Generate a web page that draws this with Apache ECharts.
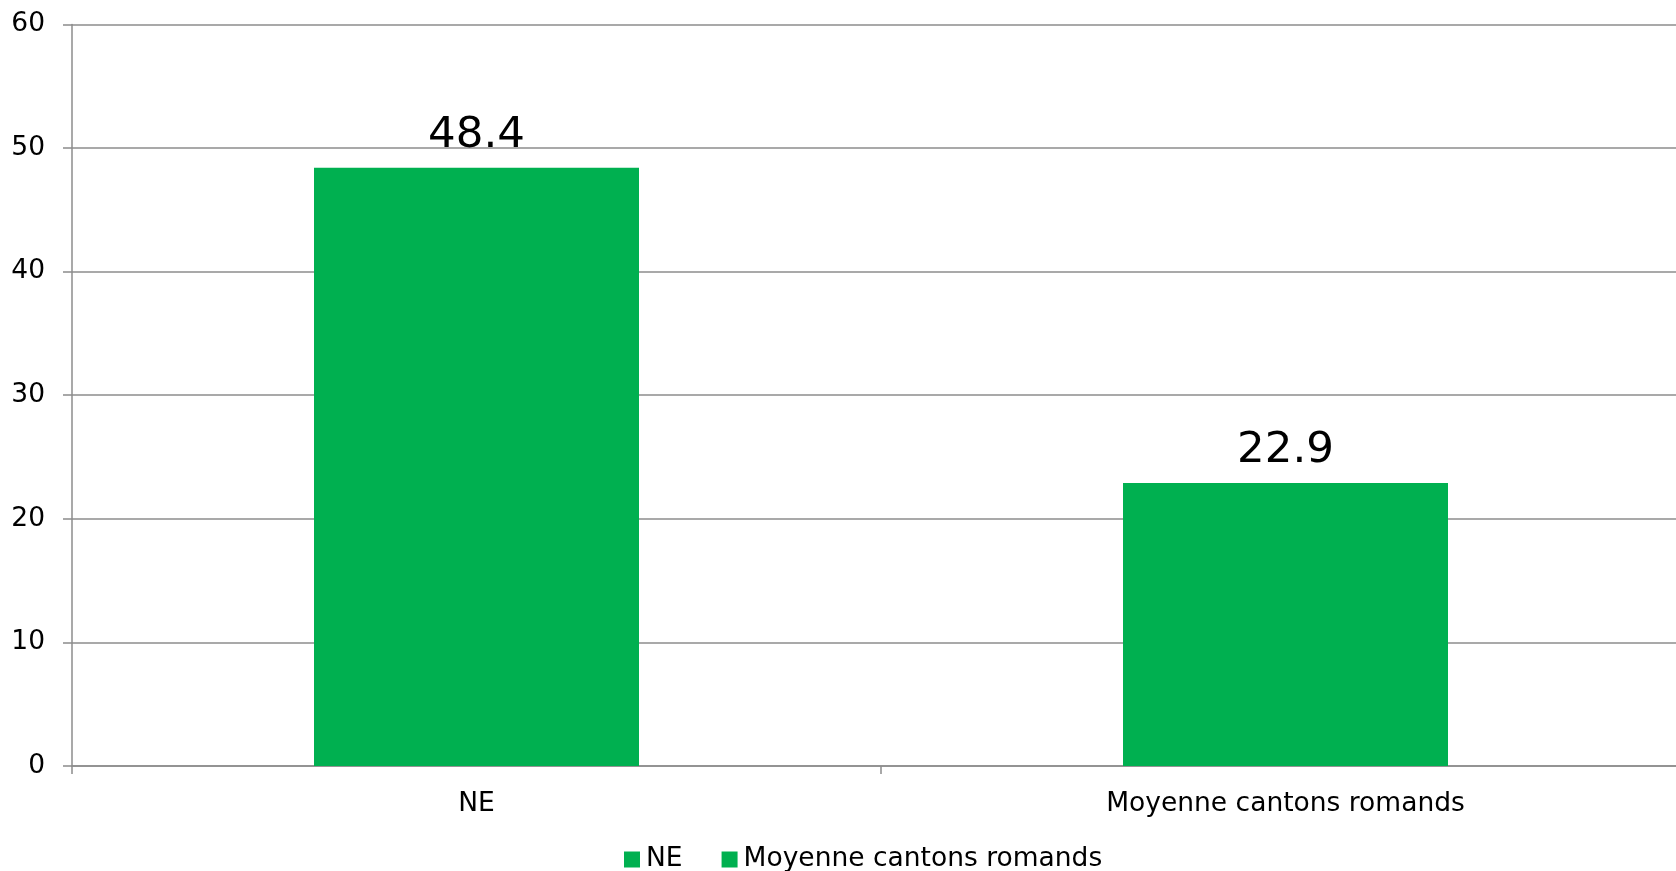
<!DOCTYPE html>
<html>
<head>
<meta charset="utf-8">
<script src="https://cdn.jsdelivr.net/npm/echarts@6/dist/echarts.min.js"></script>
<style>
html,body{margin:0;padding:0;background:#fff;}
#chart{width:1676px;height:871px;}
</style>
</head>
<body>
<div id="chart"></div>
<script>
const categories = ['NE', 'Moyenne cantons romands'];
const seriesNames = ['NE', 'Moyenne cantons romands'];
const values = [48.4, 22.9];
const yTicks = [0, 10, 20, 30, 40, 50, 60];

const FONT = 'Verdana, "DejaVu Sans", sans-serif';
const GREEN = '#00B050';
const AXIS = '#8c8c8c';

const series = seriesNames.map((name, i) => ({
  name: name,
  type: 'bar',
  stack: 'all',
  barWidth: 325,
  itemStyle: { color: GREEN },
  data: categories.map((c, j) => (j === i ? values[j] : null)),
  label: {
    show: true,
    position: 'top',
    distance: 10,
    fontSize: 43.5,
    fontFamily: FONT,
    color: '#000',
    formatter: p => p.value.toFixed(1)
  }
}));

const chart = echarts.init(document.getElementById('chart'), null, { renderer: 'canvas' });
chart.setOption({
  animation: false,
  backgroundColor: '#fff',
  grid: { left: 72, top: 24.4, width: 1618, height: 741.6, outerBoundsMode: 'none', containLabel: false },
  legend: {
    data: seriesNames,
    left: 619,
    top: 841,
    itemWidth: 16,
    itemHeight: 16,
    itemGap: 39,
    icon: 'rect',
    textStyle: { fontSize: 26.5, fontFamily: FONT, color: '#000', padding: [0, 0, 0, 1] }
  },
  xAxis: {
    type: 'category',
    data: categories,
    axisLine: { lineStyle: { color: AXIS, width: 1.5 } },
    axisTick: { show: true, length: 8, lineStyle: { color: AXIS, width: 1.5 } },
    axisLabel: { fontSize: 26.5, fontFamily: FONT, color: '#000', margin: 25 },
    splitLine: { show: false }
  },
  yAxis: {
    type: 'value',
    min: yTicks[0],
    max: yTicks[yTicks.length - 1],
    interval: 10,
    axisLine: { show: true, lineStyle: { color: AXIS, width: 1.5 } },
    axisTick: { show: true, length: 9, lineStyle: { color: AXIS, width: 1.5 } },
    axisLabel: { fontSize: 26.5, fontFamily: FONT, color: '#000', margin: 27 },
    splitLine: { show: true, lineStyle: { color: AXIS, width: 1.5 } }
  },
  series: series
});
</script>
</body>
</html>
